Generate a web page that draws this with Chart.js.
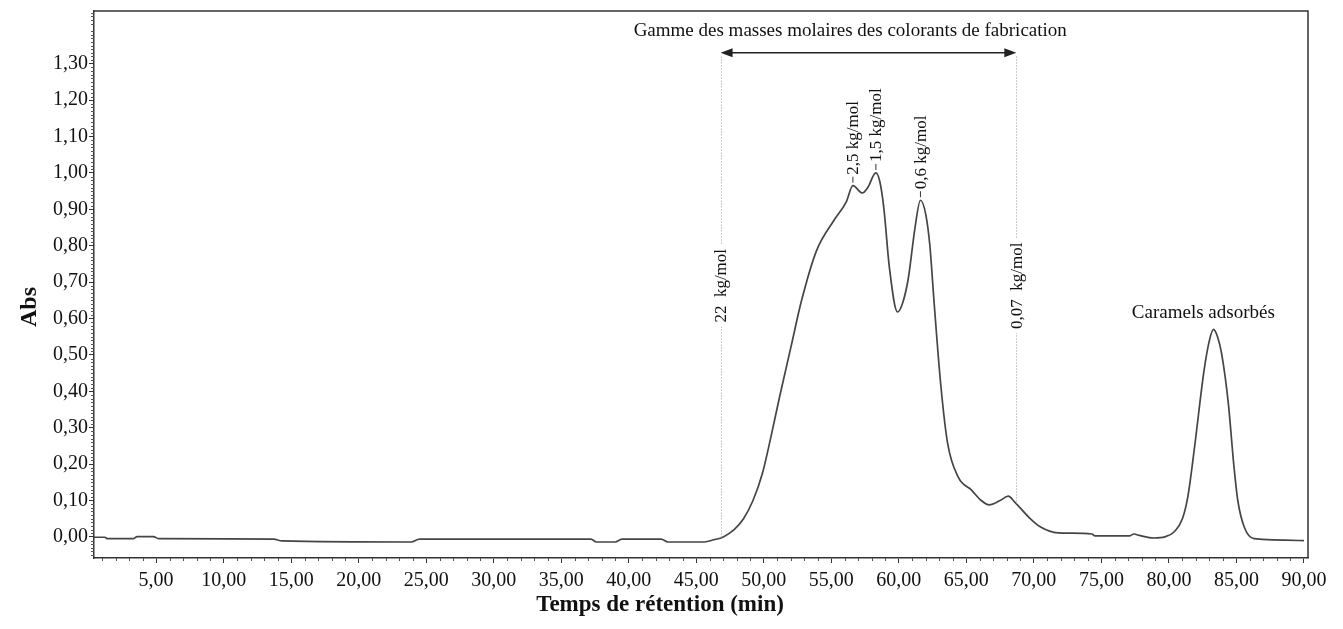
<!DOCTYPE html>
<html>
<head>
<meta charset="utf-8">
<title>Chromatogramme</title>
<script src="https://cdn.jsdelivr.net/npm/chart.js@4.4.1/dist/chart.umd.min.js"></script>
<style>
html, body { margin: 0; padding: 0; background: #fff; }
#wrap { width: 1343px; height: 629px; }
</style>
</head>
<body>
<div id="wrap"><canvas id="chroma" width="1343" height="629"></canvas></div>
<script>
// retention time (min) and absorbance
const retentionTimes = [
	0.3, 1.2, 1.4, 3.3, 3.6, 4.8, 5.2, 13.7, 14.3, 23.9, 24.5, 37.2, 37.6, 39.0, 39.5,
	42.4, 42.9, 45.6, 46.3, 47.0, 47.8, 48.5, 49.2, 49.9, 50.5, 51.2, 52.0, 52.8, 53.9,
	55.2, 56.1, 56.6, 57.3, 57.7, 58.3, 58.6, 58.9, 59.3, 59.9, 60.3, 60.7, 61.2,
	61.6, 62.0, 62.3, 62.6, 63.1, 63.6, 64.4, 65.4, 66.1, 66.7, 67.5, 68.1, 68.6, 69.6,
	70.5, 71.8, 74.3, 74.5, 77.1, 77.4, 77.8, 78.9, 79.7, 80.4, 81.0, 81.4, 81.9, 82.6,
	83.0, 83.3, 83.6, 83.9, 84.4, 84.8, 85.1, 85.6, 86.3, 90.0
];
const absorbance = [
	-0.001, -0.001, -0.005, -0.005, 0.001, 0.001, -0.005, -0.006, -0.011, -0.014, -0.006, -0.006, -0.014, -0.014, -0.006,
	-0.006, -0.014, -0.014, -0.008, 0.0, 0.02, 0.05, 0.1, 0.175, 0.27, 0.39, 0.52, 0.65, 0.786,
	0.87, 0.92, 0.965, 0.945, 0.96, 1.0, 0.975, 0.9, 0.74, 0.618, 0.645, 0.71, 0.85,
	0.925, 0.885, 0.8, 0.65, 0.42, 0.26, 0.164, 0.128, 0.1, 0.088, 0.1, 0.112, 0.095, 0.055,
	0.027, 0.011, 0.008, 0.003, 0.003, 0.008, 0.004, -0.003, 0.0, 0.014, 0.05, 0.11, 0.247, 0.457,
	0.54, 0.57, 0.55, 0.504, 0.367, 0.2, 0.1, 0.025, -0.005, -0.01
];

const xTickValues = [5, 10, 15, 20, 25, 30, 35, 40, 45, 50, 55, 60, 65, 70, 75, 80, 85, 90];
const yTickValues = [0, 0.1, 0.2, 0.3, 0.4, 0.5, 0.6, 0.7, 0.8, 0.9, 1.0, 1.1, 1.2, 1.3];

// peak annotations (molar mass at the apex)
const peakTimes = [56.6, 58.3, 61.6];
const peakAbs = [0.965, 1.0, 0.925];
const peakTexts = ["2,5 kg/mol", "1,5 kg/mol", "0,6 kg/mol"];

// range of the manufacturing dyes
const rangeTimes = [46.8, 68.7];
const rangeTexts = ["22  kg/mol", "0,07  kg/mol"];
const rangeTitle = "Gamme des masses molaires des colorants de fabrication";
const caramelText = "Caramels adsorbés";
const caramelTime = 82.55;

const xTitle = "Temps de rétention (min)";
const yTitle = "Abs";

const fmt = (v) => v.toFixed(2).replace(".", ",");
const SERIF = "'Liberation Serif', 'Times New Roman', serif";

const curveAt = (t) => {
	for (let i = 1; i < retentionTimes.length; i++) {
		if (retentionTimes[i] >= t) {
			const t0 = retentionTimes[i - 1], t1 = retentionTimes[i];
			const k = (t - t0) / (t1 - t0);
			return absorbance[i - 1] + k * (absorbance[i] - absorbance[i - 1]);
		}
	}
	return absorbance[absorbance.length - 1];
};

const decorations = {
	id: "decorations",
	afterDraw(chart) {
		const { ctx, chartArea: a, scales } = chart;
		const x = scales.x, y = scales.y;
		ctx.save();

		// frame on top and right
		ctx.strokeStyle = "#333";
		ctx.lineWidth = 1.5;
		ctx.beginPath();
		ctx.moveTo(a.left, a.top);
		ctx.lineTo(a.right, a.top);
		ctx.lineTo(a.right, a.bottom);
		ctx.stroke();

		// minor ticks
		ctx.lineWidth = 1;
		ctx.strokeStyle = "#555";
		ctx.beginPath();
		for (let i = -5; i <= 144; i++) {
			if (i % 10 === 0) continue;
			const py = Math.round(y.getPixelForValue(i / 100)) + 0.5;
			ctx.moveTo(a.left - 3, py);
			ctx.lineTo(a.left, py);
		}
		for (let t = 1; t <= 90; t++) {
			if (t % 5 === 0) continue;
			const px = Math.round(x.getPixelForValue(t)) + 0.5;
			ctx.moveTo(px, a.bottom);
			ctx.lineTo(px, a.bottom + 3);
		}
		ctx.stroke();

		// dotted range limits
		ctx.strokeStyle = "#9a9a9a";
		ctx.setLineDash([1, 2]);
		rangeTimes.forEach((t) => {
			const px = Math.round(x.getPixelForValue(t)) + 0.5;
			ctx.beginPath();
			ctx.moveTo(px, y.getPixelForValue(1.32));
			ctx.lineTo(px, y.getPixelForValue(curveAt(t)));
			ctx.stroke();
		});
		ctx.setLineDash([]);

		// range limit labels, on white so they cut the dotted line
		ctx.fillStyle = "#111";
		ctx.font = "17px " + SERIF;
		ctx.textAlign = "center";
		ctx.textBaseline = "middle";
		rangeTimes.forEach((t, i) => {
			ctx.save();
			ctx.translate(x.getPixelForValue(t), y.getPixelForValue(0.69));
			ctx.rotate(-Math.PI / 2);
			const w = ctx.measureText(rangeTexts[i]).width;
			ctx.fillStyle = "#fff";
			ctx.fillRect(-w / 2 - 4, -8, w + 8, 16);
			ctx.fillStyle = "#111";
			ctx.fillText(rangeTexts[i], 0, 1);
			ctx.restore();
		});

		// double arrow
		const ax0 = x.getPixelForValue(rangeTimes[0]);
		const ax1 = x.getPixelForValue(rangeTimes[1]);
		const ay = y.getPixelForValue(1.33);
		ctx.strokeStyle = "#222";
		ctx.lineWidth = 1.5;
		ctx.beginPath();
		ctx.moveTo(ax0 + 6, ay);
		ctx.lineTo(ax1 - 6, ay);
		ctx.stroke();
		ctx.fillStyle = "#222";
		ctx.beginPath();
		ctx.moveTo(ax0, ay);
		ctx.lineTo(ax0 + 12, ay - 4.5);
		ctx.lineTo(ax0 + 12, ay + 4.5);
		ctx.closePath();
		ctx.moveTo(ax1, ay);
		ctx.lineTo(ax1 - 12, ay - 4.5);
		ctx.lineTo(ax1 - 12, ay + 4.5);
		ctx.closePath();
		ctx.fill();

		// range title
		ctx.fillStyle = "#111";
		ctx.font = "19px " + SERIF;
		ctx.textAlign = "center";
		ctx.textBaseline = "middle";
		ctx.fillText(rangeTitle, x.getPixelForValue(56.4), y.getPixelForValue(1.39));

		// peak labels with short leader
		ctx.font = "17px " + SERIF;
		ctx.strokeStyle = "#333";
		ctx.lineWidth = 1;
		ctx.textAlign = "left";
		peakTimes.forEach((t, i) => {
			ctx.save();
			ctx.translate(x.getPixelForValue(t), y.getPixelForValue(peakAbs[i]) - 3);
			ctx.rotate(-Math.PI / 2);
			ctx.beginPath();
			ctx.moveTo(0, 0);
			ctx.lineTo(6, 0);
			ctx.stroke();
			ctx.fillText(peakTexts[i], 8, 1);
			ctx.restore();
		});

		// caramel peak label
		ctx.font = "19px " + SERIF;
		ctx.textAlign = "center";
		ctx.fillText(caramelText, x.getPixelForValue(caramelTime), y.getPixelForValue(0.615));

		// axis titles
		ctx.font = "bold 23px " + SERIF;
		ctx.fillText(xTitle, 660, 605);
		ctx.save();
		ctx.translate(30, 307);
		ctx.rotate(-Math.PI / 2);
		ctx.font = "bold 24px " + SERIF;
		ctx.fillText(yTitle, 0, 0);
		ctx.restore();

		ctx.restore();
	},
};

const points = retentionTimes.map((t, i) => ({ x: t, y: absorbance[i] }));

new Chart(document.getElementById("chroma"), {
	type: "line",
	data: {
		datasets: [
			{
				data: points,
				borderColor: "#454545",
				borderWidth: 1.7,
				pointRadius: 0,
				cubicInterpolationMode: "monotone",
				fill: false,
			},
		],
	},
	options: {
		responsive: false,
		animation: false,
		devicePixelRatio: 1,
		layout: { padding: { top: 10, right: 35, left: 0, bottom: 0 } },
		plugins: { legend: { display: false }, tooltip: { enabled: false } },
		scales: {
			x: {
				type: "linear",
				min: 0.4,
				max: 90.3,
				afterBuildTicks: (axis) => {
					axis.ticks = xTickValues.map((value) => ({ value }));
				},
				afterFit: (axis) => {
					axis.height = 71;
				},
				ticks: {
					autoSkip: false,
					maxRotation: 0,
					padding: 6,
					color: "#111",
					font: { family: SERIF, size: 20 },
					callback: (v) => fmt(v),
				},
				grid: { drawOnChartArea: false, tickLength: 5, color: "#333" },
				border: { color: "#333", width: 1.5 },
			},
			y: {
				min: -0.058,
				max: 1.445,
				afterBuildTicks: (axis) => {
					axis.ticks = yTickValues.map((value) => ({ value }));
				},
				afterFit: (axis) => {
					axis.width = 94;
				},
				ticks: {
					padding: 1,
					color: "#111",
					font: { family: SERIF, size: 20, lineHeight: 1 },
					callback: (v) => fmt(v),
				},
				grid: { drawOnChartArea: false, tickLength: 5, color: "#333" },
				border: { color: "#333", width: 1.5 },
			},
		},
	},
	plugins: [decorations],
});
</script>
</body>
</html>
